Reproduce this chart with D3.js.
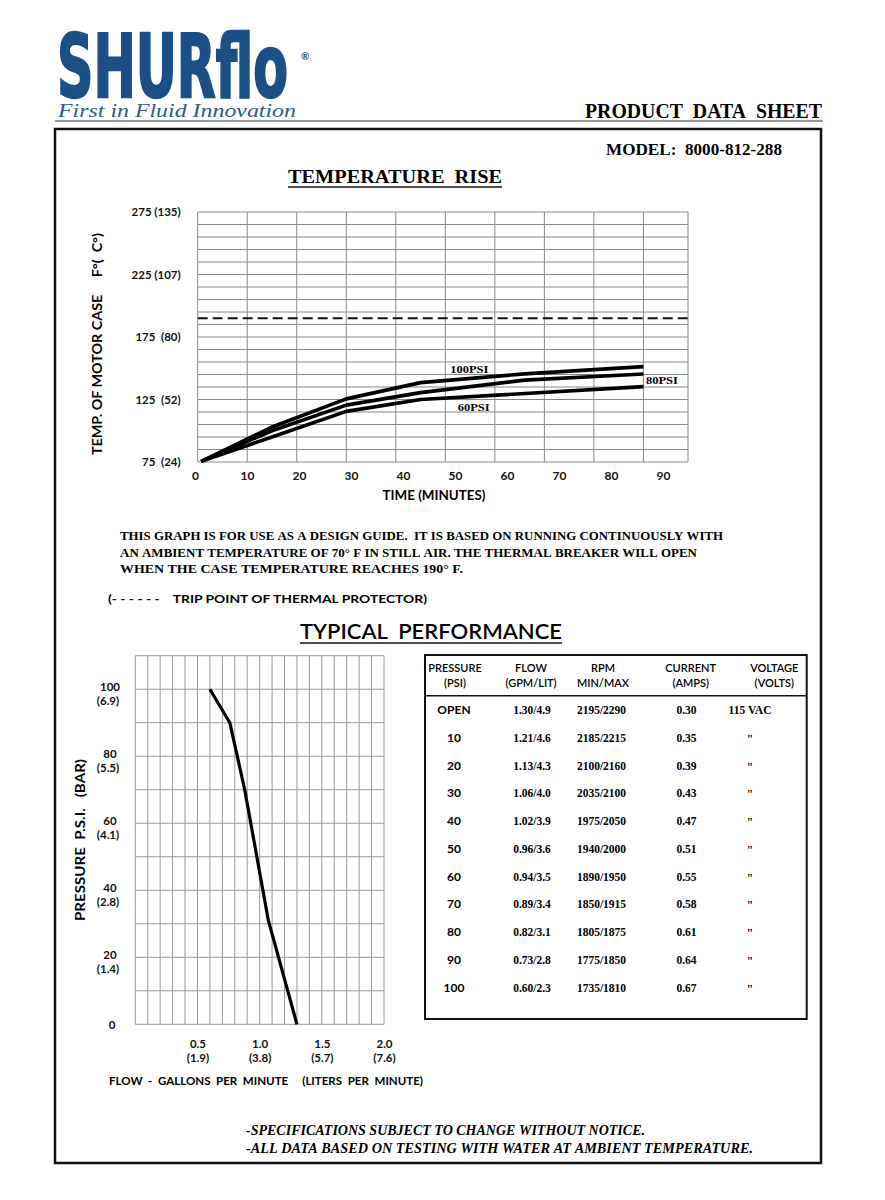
<!DOCTYPE html>
<html><head><meta charset="utf-8">
<script src="https://cdn.jsdelivr.net/npm/d3@7"></script>
<style>
html,body{margin:0;padding:0;background:#fff;}
svg{display:block;}
.sans{font-family:Lato,"Open Sans",sans-serif;font-weight:700;}
.serif{font-family:"Liberation Serif","Times New Roman",serif;font-weight:700;}
</style></head>
<body>
<svg id="c" width="885" height="1200"></svg>
<script>
// ---------- DATA ----------
// Temperature rise chart (time in minutes, temperature in °F)
const tempTicksF = [75, 125, 175, 225, 275];
const tempTicksC = ["(24)", "(52)", "(80)", "(107)", "(135)"];
const timeTicks = [0, 10, 20, 30, 40, 50, 60, 70, 80, 90];
const tripPointF = 190;
const series100Time = [0.7, 15, 30, 45, 66, 90];
const series100Temp = [75.5, 103, 125.5, 138.5, 145.5, 151.3];
const series80Time = [0.7, 15, 30, 45, 66, 90];
const series80Temp = [75.5, 100, 120.5, 130.5, 140.5, 145.4];
const series60Time = [0.7, 15, 30, 45, 90];
const series60Temp = [75.5, 95, 115.5, 125, 135.3];
const seriesNames = ["100PSI", "80PSI", "60PSI"];

// Typical performance chart (flow GPM vs pressure PSI)
const perfFlow = [1.30, 1.07, 0.88, 0.76, 0.60];
const perfPsi = [0, 31, 70, 90, 100];
const psiTicks = [0, 20, 40, 60, 80, 100];
const barTicks = ["", "(1.4)", "(2.8)", "(4.1)", "(5.5)", "(6.9)"];
const flowTicks = [0.5, 1.0, 1.5, 2.0];
const lpmTicks = ["(1.9)", "(3.8)", "(5.7)", "(7.6)"];

// Table
const tableHeaders1 = ["PRESSURE", "FLOW", "RPM", "CURRENT", "VOLTAGE"];
const tableHeaders2 = ["(PSI)", "(GPM/LIT)", "MIN/MAX", "(AMPS)", "(VOLTS)"];
const tPressure = ["OPEN", "10", "20", "30", "40", "50", "60", "70", "80", "90", "100"];
const tFlow = ["1.30/4.9", "1.21/4.6", "1.13/4.3", "1.06/4.0", "1.02/3.9", "0.96/3.6", "0.94/3.5", "0.89/3.4", "0.82/3.1", "0.73/2.8", "0.60/2.3"];
const tRpm = ["2195/2290", "2185/2215", "2100/2160", "2035/2100", "1975/2050", "1940/2000", "1890/1950", "1850/1915", "1805/1875", "1775/1850", "1735/1810"];
const tCurrent = ["0.30", "0.35", "0.39", "0.43", "0.47", "0.51", "0.55", "0.58", "0.61", "0.64", "0.67"];
const tVoltage = ["115 VAC", "\"", "\"", "\"", "\"", "\"", "\"", "\"", "\"", "\"", "\""];

// ---------- DRAW ----------
const svg = d3.select("#c");
svg.append("rect").attr("width", 885).attr("height", 1200).attr("fill", "#fff");
const keep = s => String(s).replace(/ /g, "\u00a0");

function txt(g, x, y, s, cls, size, opts = {}) {
  const t = g.append("text").attr("x", x).attr("y", y).attr("class", cls)
    .attr("font-size", size).text(keep(s));
  if (opts.anchor) t.attr("text-anchor", opts.anchor);
  if (opts.len) t.attr("textLength", opts.len).attr("lengthAdjust", "spacingAndGlyphs");
  if (opts.fill) t.attr("fill", opts.fill);
  if (opts.style) t.attr("font-style", opts.style);
  if (opts.family) t.style("font-family", opts.family);
  if (opts.weight) t.style("font-weight", opts.weight);
  return t;
}

// Header / logo
const blue = "#1b4f86";
txt(svg, 0, 0, "SHURflo", "sans", 62, {len: 231, fill: blue,
  family: '"Liberation Sans Narrow","Arial Narrow","DejaVu Sans Condensed",sans-serif'})
  .attr("stroke", blue).attr("stroke-width", 1.6)
  .attr("transform", "translate(57,97) scale(1,1.42)");
txt(svg, 301, 60, "®", "sans", 10, {fill: blue});
txt(svg, 58, 117, "First in Fluid Innovation", "serif", 18, {len: 238, fill: "#2f5b8c", style: "italic", weight: 400});
svg.append("line").attr("x1", 55).attr("x2", 823).attr("y1", 121).attr("y2", 121)
  .attr("stroke", "#777").attr("stroke-width", 1.3);
txt(svg, 822, 118, "PRODUCT  DATA  SHEET", "serif", 20, {anchor: "end", len: 237});
svg.append("rect").attr("x", 55).attr("y", 129).attr("width", 766).attr("height", 1034)
  .attr("fill", "none").attr("stroke", "#111").attr("stroke-width", 2.5);
txt(svg, 606, 155, "MODEL:  8000-812-288", "serif", 17, {len: 176});

// ---- Temperature Rise ----
txt(svg, 288, 183, "TEMPERATURE  RISE", "serif", 19, {len: 214});
svg.append("line").attr("x1", 288).attr("x2", 502).attr("y1", 187).attr("y2", 187)
  .attr("stroke", "#111").attr("stroke-width", 1.5);

const xT = d3.scaleLinear().domain([0, 99]).range([197.7, 688]);
const xTLab = d3.scaleLinear().domain([0, 90]).range([195, 663]);
const yT = d3.scaleLinear().domain([75, 275]).range([462, 212]);
const gT = svg.append("g");
// grid
gT.append("g").selectAll("line").data(d3.range(75, 276, 10)).join("line")
  .attr("x1", xT(0)).attr("x2", xT(99)).attr("y1", d => yT(d)).attr("y2", d => yT(d))
  .attr("stroke", "#888").attr("stroke-width", 1);
gT.append("g").selectAll("line").data(timeTicks.concat([99])).join("line")
  .attr("x1", d => xT(d)).attr("x2", d => xT(d)).attr("y1", yT(75)).attr("y2", yT(275))
  .attr("stroke", "#888").attr("stroke-width", 1);
// trip point
gT.append("line").attr("x1", xT(0)).attr("x2", xT(99)).attr("y1", yT(tripPointF)).attr("y2", yT(tripPointF))
  .attr("stroke", "#111").attr("stroke-width", 2).attr("stroke-dasharray", "10,5");
// curves
const lineT = d3.line().x(d => xT(d[0])).y(d => yT(d[1]));
const seriesT = [
  d3.zip(series100Time, series100Temp),
  d3.zip(series80Time, series80Temp),
  d3.zip(series60Time, series60Temp)
];
gT.append("g").selectAll("path").data(seriesT).join("path")
  .attr("d", lineT).attr("fill", "none").attr("stroke", "#000")
  .attr("stroke-width", 3.6).attr("stroke-linejoin", "round");
// series labels
txt(gT, xT(51), yT(146.2), seriesNames[0], "serif", 11, {len: 38});
txt(gT, xT(90.5), yT(137.4), seriesNames[1], "serif", 11, {len: 32});
txt(gT, xT(52.5), yT(115.8), seriesNames[2], "serif", 11, {len: 32});
// axes
const axYT = d3.axisLeft(yT).tickValues(tempTicksF).tickSize(0).tickPadding(17)
  .tickFormat((d, i) => keep(d + (d >= 225 ? " " : "  ") + tempTicksC[i]));
const gAy = gT.append("g").attr("transform", `translate(${xT(0)},0)`).call(axYT);
gAy.select(".domain").remove();
gAy.selectAll("text").attr("class", "sans").attr("font-size", 11.5).attr("fill", "#111")
  .attr("font-family", null);
const axXT = d3.axisBottom(xTLab).tickValues(timeTicks).tickSize(0).tickPadding(9.5);
const gAx = gT.append("g").attr("transform", `translate(0,${yT(75)})`).call(axXT);
gAx.select(".domain").remove();
gAx.selectAll("text").attr("class", "sans").attr("font-size", 12).attr("fill", "#111")
  .attr("font-family", null);
txt(gT, 434, 500, "TIME (MINUTES)", "sans", 13, {anchor: "middle", len: 103});
txt(gT, 0, 0, "TEMP. OF MOTOR CASE     F°(  C°)", "sans", 13, {anchor: "middle", len: 222})
  .attr("transform", "translate(102,344) rotate(-90)");

// Notes
const noteLines = [
  "THIS GRAPH IS FOR USE AS A DESIGN GUIDE.  IT IS BASED ON RUNNING CONTINUOUSLY WITH",
  "AN AMBIENT TEMPERATURE OF 70° F IN STILL AIR. THE THERMAL BREAKER WILL OPEN",
  "WHEN THE CASE TEMPERATURE REACHES 190° F."
];
const noteLens = [603, 577, 343];
noteLines.forEach((s, i) => txt(svg, 120, 540 + i * 16.5, s, "serif", 12.5, {len: noteLens[i]}));
txt(svg, 108, 603, "(- - - - - -    TRIP POINT OF THERMAL PROTECTOR)", "sans", 12, {len: 319});

// ---- Typical Performance ----
txt(svg, 300, 639, "TYPICAL  PERFORMANCE", "sans", 21, {len: 262, weight: 600});
svg.append("line").attr("x1", 300).attr("x2", 562).attr("y1", 643).attr("y2", 643)
  .attr("stroke", "#111").attr("stroke-width", 1.5);

const xP = d3.scaleLinear().domain([0, 2.0]).range([135.3, 384]);
const yP = d3.scaleLinear().domain([0, 110]).range([1024.3, 655.7]);
const gP = svg.append("g");
gP.append("g").selectAll("line").data(d3.range(0, 20.5, 1).map(d => d / 10)).join("line")
  .attr("x1", d => xP(d)).attr("x2", d => xP(d)).attr("y1", yP(0)).attr("y2", yP(110))
  .attr("stroke", "#999").attr("stroke-width", 1);
gP.append("g").selectAll("line").data(d3.range(0, 111, 10)).join("line")
  .attr("x1", xP(0)).attr("x2", xP(2.0)).attr("y1", d => yP(d)).attr("y2", d => yP(d))
  .attr("stroke", "#999").attr("stroke-width", 1);
const lineP = d3.line().x(d => xP(d[0])).y(d => yP(d[1]));
gP.append("path").datum(d3.zip(perfFlow, perfPsi)).attr("d", lineP)
  .attr("fill", "none").attr("stroke", "#000").attr("stroke-width", 3.2).attr("stroke-linejoin", "round");

// Y axis (two-line labels)
const axYP = d3.axisLeft(yP).tickValues(psiTicks).tickSize(0).tickPadding(0).tickFormat(() => "");
const gPy = gP.append("g").attr("transform", "translate(110,0)").call(axYP);
gPy.select(".domain").remove();
gPy.selectAll(".tick").each(function (d, i) {
  const t = d3.select(this).select("text").attr("x", 0).attr("dy", null)
    .attr("text-anchor", "middle").attr("class", "sans").attr("font-size", 11.5)
    .attr("fill", "#111").attr("font-family", null);
  if (barTicks[i]) {
    t.append("tspan").attr("x", 0).attr("y", 1).text(d);
    t.append("tspan").attr("x", -2).attr("y", 15).text(barTicks[i]);
  } else {
    t.append("tspan").attr("x", 2).attr("y", 4).text(d);
  }
});
// X axis (two-line labels)
const axXP = d3.axisBottom(xP).tickValues(flowTicks).tickSize(0).tickFormat(() => "");
const gPx = gP.append("g").attr("transform", `translate(0,${yP(0)})`).call(axXP);
gPx.select(".domain").remove();
gPx.selectAll(".tick").each(function (d, i) {
  const t = d3.select(this).select("text").attr("y", 0).attr("dy", null)
    .attr("class", "sans").attr("font-size", 11.5).attr("fill", "#111").attr("font-family", null);
  t.append("tspan").attr("x", 0).attr("y", 24).text(d3.format(".1f")(d));
  t.append("tspan").attr("x", 0).attr("y", 38).text(lpmTicks[i]);
});
txt(gP, 109, 1085, "FLOW  -  GALLONS  PER  MINUTE     (LITERS  PER  MINUTE)", "sans", 11.5, {len: 314});
txt(gP, 0, 0, "PRESSURE  P.S.I.   (BAR)", "sans", 13, {anchor: "middle", len: 162})
  .attr("transform", "translate(85,840) rotate(-90)");

// ---- Table ----
const gTab = svg.append("g");
gTab.append("rect").attr("x", 425).attr("y", 655).attr("width", 381.7).attr("height", 364)
  .attr("fill", "none").attr("stroke", "#111").attr("stroke-width", 2);
gTab.append("line").attr("x1", 425).attr("x2", 806.7).attr("y1", 695.7).attr("y2", 695.7)
  .attr("stroke", "#111").attr("stroke-width", 1.5);
const colCenters = [455, 531, 603, 690.7, 774.3];
const dataCenters = [454, 532, 601.5, 686.5, 750];
tableHeaders1.forEach((h, i) => {
  txt(gTab, colCenters[i], 672, h, "sans", 11, {anchor: "middle", weight: 600});
  txt(gTab, colCenters[i], 687, tableHeaders2[i], "sans", 11, {anchor: "middle", weight: 600});
});
const rowY = d3.scaleLinear().domain([0, 10]).range([714, 991.7]);
const cols = [tPressure, tFlow, tRpm, tCurrent, tVoltage];
cols.forEach((col, ci) => {
  gTab.append("g").selectAll("text").data(col).join("text")
    .attr("x", dataCenters[ci]).attr("y", (d, i) => rowY(i) + (ci === 4 && d === "\"" ? 1 : 0))
    .attr("text-anchor", "middle")
    .attr("class", ci === 0 ? "sans" : "serif")
    .attr("font-size", ci === 0 ? 12 : 11.5)
    .text(d => keep(d));
});

// Footer
txt(svg, 246, 1135, "-SPECIFICATIONS SUBJECT TO CHANGE WITHOUT NOTICE.", "serif", 14.5, {len: 399, style: "italic"});
txt(svg, 246, 1153, "-ALL DATA BASED ON TESTING WITH WATER AT AMBIENT TEMPERATURE.", "serif", 14.5, {len: 507, style: "italic"});
</script>
</body></html>
